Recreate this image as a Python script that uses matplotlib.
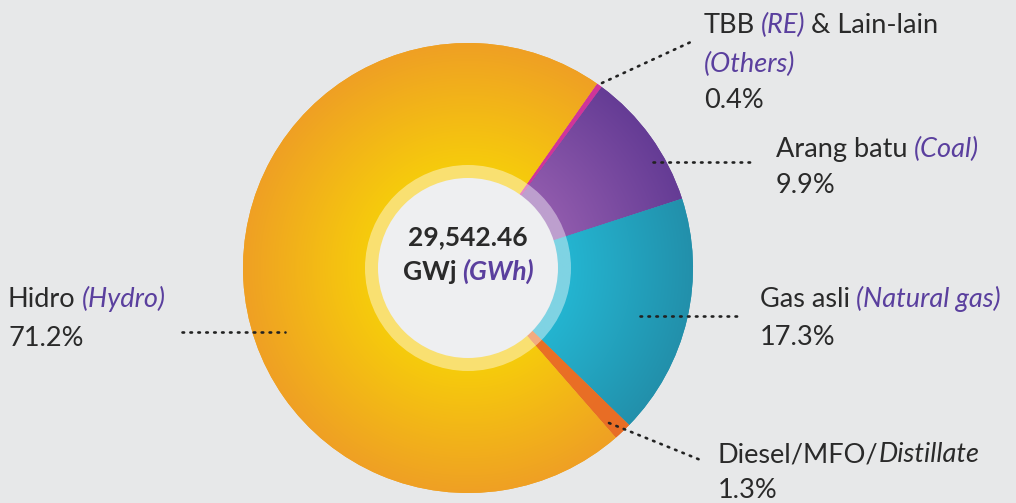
import numpy as np
import matplotlib.pyplot as plt
from matplotlib.colors import LinearSegmentedColormap

plt.rcParams['font.family'] = ['Lato', 'DejaVu Sans']

# data (clockwise from the top)
labels = ['TBB (RE) & Lain-lain (Others)', 'Arang batu (Coal)', 'Gas asli (Natural gas)',
          'Diesel/MFO/Distillate', 'Hidro (Hydro)']
shares = [0.4, 9.9, 17.3, 1.3, 71.2]
total_txt = '29,542.46'
inner_cols = ['#d0359a', '#8f5aac', '#24b4d0', '#ea7026', '#f6cb0c']
outer_cols = ['#d0359a', '#653c95', '#2290ab', '#e86d25', '#efa024']

W, H = 1016, 503
bg = '#e7e8e9'
dark = '#2a2a2a'
purple = '#5a3f9e'
FS = 19.5

fig = plt.figure(figsize=(W / 100, H / 100), dpi=100, facecolor=bg)
ax = fig.add_axes([0, 0, 1, 1])
ax.set_facecolor(bg)

cx, cy = 468, H - 268
R, r_ring, r_in = 225, 103, 90

wedges, _ = ax.pie(shares, startangle=55, counterclock=False, center=(cx, cy),
                   radius=R, wedgeprops=dict(width=R - r_in + 2, linewidth=0))
ax.set_xlim(0, W)
ax.set_ylim(0, H)
ax.axis('off')

# radial gradients clipped to each wedge
gx, gy = np.meshgrid(np.linspace(cx - R, cx + R, 500), np.linspace(cy - R, cy + R, 500))
rr = np.clip((np.hypot(gx - cx, gy - cy) - r_ring) / (R - r_ring), 0, 1)
for w, c0, c1 in zip(wedges, inner_cols, outer_cols):
    w.set_facecolor(c1)
    cm = LinearSegmentedColormap.from_list('g', [c0, c1])
    im = ax.imshow(rr, cmap=cm, extent=(cx - R, cx + R, cy - R, cy + R), origin='lower',
                   vmin=0, vmax=1, zorder=2, interpolation='bilinear')
    im.set_clip_path(w)
ax.set_xlim(0, W)
ax.set_ylim(0, H)
ax.set_aspect('auto')

# translucent ring and centre disc
ax.add_patch(plt.Circle((cx, cy), r_ring, color='white', alpha=0.42, lw=0, zorder=3))
ax.add_patch(plt.Circle((cx, cy), r_in, color='#eeeff1', lw=0, zorder=4))

fig.canvas.draw()
rend = fig.canvas.get_renderer()


def rich(x, y, parts, size=FS, weight='normal', ha='left', gap=0.3):
    # parts: (text, italic?)
    objs = []
    for txt, it in parts:
        t = ax.text(x, H - y, txt, fontsize=size, fontweight=weight,
                    style='italic' if it else 'normal', color=purple if it else dark,
                    va='baseline', ha='left', zorder=6)
        objs.append(t)
        x += t.get_window_extent(renderer=rend).width + size * gap
    if ha == 'center':
        total = x - size * gap - objs[0].get_position()[0]
        for t in objs:
            px, py = t.get_position()
            t.set_position((px - total / 2, py))
    return x - size * gap


def dots(x0, y0, x1, y1):
    ax.plot([x0, x1], [H - y0, H - y1], color='#222222', lw=1.9,
            ls=(0, (0.6, 2.4)), dash_capstyle='round', zorder=5)


# centre label
rich(cx, 245, [(total_txt, False)], size=19, weight='bold', ha='center')
rich(cx, 280, [('GWj', False), ('(GWh)', True)], size=19, weight='bold', ha='center')

# side labels
rich(704, 33, [('TBB', False), ('(RE)', True), ('& Lain-lain', False)])
rich(704, 72, [('(Others)', True)])
rich(704, 108, [(f'{shares[0]}%', False)])
dots(602, 83, 693, 41)

rich(776, 157, [('Arang batu', False), ('(Coal)', True)])
rich(776, 193, [(f'{shares[1]}%', False)])
dots(653, 162, 753, 162)

rich(760, 307, [('Gas asli', False), ('(Natural gas)', True)])
rich(760, 345, [(f'{shares[2]}%', False)])
dots(640, 316, 742, 316)

xe = rich(718, 462, [('Diesel/MFO/', False)])
ax.text(xe, H - 462, 'Distillate', fontsize=FS, style='italic', color=dark, va='baseline', zorder=6)
rich(718, 498, [(f'{shares[3]}%', False)])
dots(609, 423, 703, 461)

rich(8, 307, [('Hidro', False), ('(Hydro)', True)])
rich(8, 346, [(f'{shares[4]}%', False)])
dots(182, 332, 285, 332)

fig.savefig('out.png', dpi=100, facecolor=bg)
